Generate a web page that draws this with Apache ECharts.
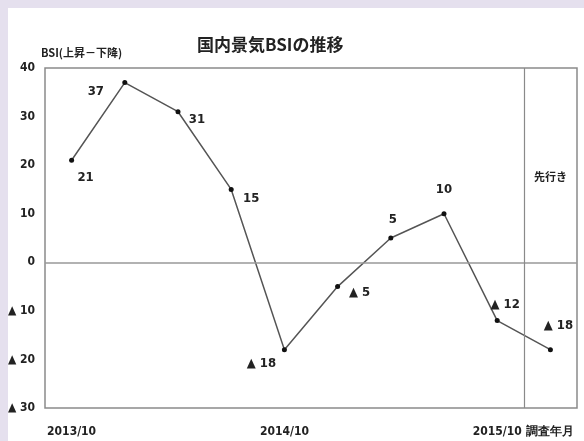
<!DOCTYPE html>
<html>
<head>
<meta charset="utf-8">
<script src="https://cdn.jsdelivr.net/npm/echarts@6/dist/echarts.min.js"></script>
<style>
html,body{margin:0;padding:0;background:#e5e0ee;width:584px;height:441px;overflow:hidden;}
#main{position:absolute;left:8px;top:8px;width:576px;height:433px;background:#fff;}
</style>
</head>
<body>
<div id="main"></div>
<script>
// 調査時期（四半期）と BSI の値
var quarters = ['2013/10','2014/1','2014/4','2014/7','2014/10','2015/1','2015/4','2015/7','2015/10','先行き'];
var xLabels = ['2013/10','','','','2014/10','','','','2015/10','調査年月'];
var bsi = [21, 37, 31, 15, -18, -5, 5, 10, -12, -18];
var yTicks = [-30, -20, -10, 0, 10, 20, 30, 40];
var forecastFrom = 9; // 先行きの区切り（カテゴリ番号）

// ラベルの位置ずらし
var labelOffsets = [[14,17],[-29,9],[19,8],[20,9],[-23,14],[22,6],[2,-18],[0,-24],[8,-16],[8,-24]];

var numFont = '"Liberation Sans Narrow", "DejaVu Sans Condensed", "Roboto Condensed", "Liberation Sans", sans-serif';
var jpFont = '"Noto Sans CJK JP", sans-serif';

function fmt(v){
    return v < 0 ? '▲ ' + (-v) : String(v);
}

var chart = echarts.init(document.getElementById('main'));

var points = [];
for(let i in bsi){
    points.push({
        value: bsi[i],
        label: {offset: labelOffsets[i]}
    });
}

option = {
    animation: false,
    title: {
        text: '国内景気BSIの推移',
        left: 184,
        top: 23,
        textStyle: {fontFamily: jpFont, fontSize: 17, fontWeight: 'bold', color: '#222'}
    },
    grid: {
        left: 37, right: 7, top: 60, bottom: 33,
        outerBoundsMode: 'none',
        containLabel: false,
        show: true, borderColor: '#8a8a8a', borderWidth: 1.5
    },
    xAxis: [{
        type: 'category',
        data: quarters,
        boundaryGap: true,
        axisLine: {show: false},
        axisTick: {show: false},
        axisLabel: {
            interval: 0,
            margin: 18,
            formatter: function(v, idx){ return xLabels[idx]; },
            fontFamily: numFont, fontSize: 12, fontWeight: 'bold', color: '#222'
        },
        splitLine: {show: false}
    }, {
        // 区切り線用の補助軸
        type: 'value',
        min: 0,
        max: quarters.length,
        show: false
    }],
    yAxis: {
        type: 'value',
        min: yTicks[0],
        max: yTicks[yTicks.length-1],
        interval: 10,
        name: 'BSI(上昇－下降)',
        nameLocation: 'end',
        nameGap: 10,
        nameTextStyle: {fontFamily: jpFont, fontSize: 11, fontWeight: 'bold', color: '#222', align: 'left', padding: [0,0,0,-4]},
        axisLine: {show: false},
        axisTick: {show: false},
        axisLabel: {
            margin: 10,
            formatter: fmt,
            fontFamily: numFont, fontSize: 12, fontWeight: 'bold', color: '#222'
        },
        splitLine: {show: false}
    },
    series: [{
        type: 'line',
        data: points,
        symbol: 'circle',
        symbolSize: 5,
        itemStyle: {color: '#111'},
        lineStyle: {color: '#555', width: 1.5},
        label: {
            show: true,
            position: 'inside',
            formatter: function(p){ return fmt(p.value); },
            fontFamily: numFont, fontSize: 13, fontWeight: 'bold', color: '#222'
        },
        markLine: {
            silent: true,
            symbol: 'none',
            label: {show: false},
            lineStyle: {color: '#999', width: 1.5, type: 'solid'},
            data: [{yAxis: 0}]
        },
        markPoint: {
            silent: true,
            symbol: 'circle',
            symbolSize: 0,
            label: {
                show: true,
                formatter: '先行き',
                fontFamily: jpFont, fontSize: 11, fontWeight: 'bold', color: '#222'
            },
            data: [{coord: ['先行き', 17.7]}]
        }
    }, {
        type: 'line',
        xAxisIndex: 1,
        data: [],
        markLine: {
            silent: true,
            symbol: 'none',
            label: {show: false},
            lineStyle: {color: '#8a8a8a', width: 1.2, type: 'solid'},
            data: [{xAxis: forecastFrom}]
        }
    }]
};
chart.setOption(option);
</script>
</body>
</html>
